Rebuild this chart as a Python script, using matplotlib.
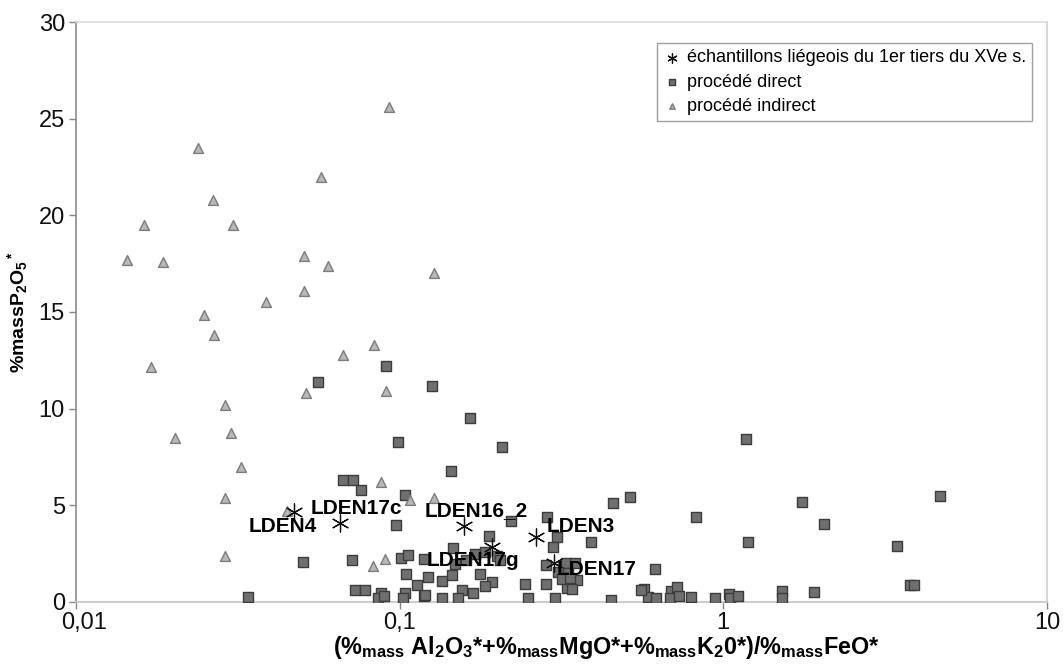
import matplotlib
matplotlib.use('Agg')
import matplotlib.pyplot as plt
import matplotlib.transforms as mtransforms
from matplotlib.ticker import FixedLocator, FixedFormatter, NullLocator

plt.rcParams['font.family'] = ['Liberation Sans', 'DejaVu Sans']
plt.rcParams['mathtext.fontset'] = 'custom'
plt.rcParams['mathtext.rm'] = 'Liberation Sans'
plt.rcParams['mathtext.bf'] = 'Liberation Sans:bold'
plt.rcParams['mathtext.default'] = 'bf'

# procédé indirect (triangles)
ind_x = [0.0925, 0.0239, 0.0573, 0.0265, 0.0162, 0.0305, 0.0144, 0.0186, 0.0507, 0.0599,
         0.1276, 0.0507, 0.0386, 0.0248, 0.0267, 0.0831, 0.0670, 0.0170, 0.0514, 0.0910,
         0.0288, 0.0203, 0.0302, 0.0323, 0.0874, 0.0289, 0.1079, 0.1276, 0.0450, 0.0289,
         0.0899, 0.0829]
ind_y = [25.6, 23.5, 22.0, 20.8, 19.5, 19.5, 17.7, 17.6, 17.9, 17.4,
         17.0, 16.1, 15.5, 14.85, 13.8, 13.3, 12.8, 12.15, 10.8, 10.9,
         10.2, 8.5, 8.75, 7.0, 6.2, 5.4, 5.3, 5.4, 4.7, 2.4,
         2.2, 1.85]

# procédé direct (squares)
dir_x = [0.091, 0.056, 0.126, 0.165, 0.0986, 0.2065, 0.1446, 0.0666, 0.0718, 0.0757, 0.1039,
         1.178, 4.675, 1.75, 0.823, 2.046, 1.195, 3.436, 0.614, 3.78, 3.89,
         0.569, 0.586, 0.618, 0.688, 0.721, 0.683, 0.728, 0.793, 0.945, 1.038,
         1.046, 1.112, 1.514, 1.514, 1.91,
         0.4575, 0.514, 0.286, 0.2206, 0.189, 0.3067, 0.3915, 0.298, 0.1457, 0.1708,
         0.1836, 0.1192, 0.148, 0.2828, 0.3277, 0.348, 0.309, 0.332, 0.352, 0.328,
         0.341, 0.122, 0.135, 0.1455, 0.177, 0.1927, 0.184, 0.1553, 0.168, 0.151,
         0.135, 0.119, 0.2436, 0.284, 0.2485, 0.303, 0.451, 0.558, 0.318, 0.336,
         0.16, 0.2,
         0.0977, 0.0503, 0.0715, 0.101, 0.106, 0.204, 0.1046, 0.113, 0.1039, 0.1026,
         0.1196, 0.0729, 0.0781, 0.0876, 0.0859, 0.0897, 0.034]
dir_y = [12.2, 11.4, 11.15, 9.5, 8.25, 8.0, 6.8, 6.3, 6.3, 5.8, 5.55,
         8.45, 5.5, 5.15, 4.4, 4.05, 3.1, 2.9, 1.7, 0.9, 0.9,
         0.65, 0.25, 0.2, 0.55, 0.75, 0.2, 0.3, 0.25, 0.2, 0.4,
         0.2, 0.3, 0.55, 0.2, 0.5,
         5.1, 5.45, 4.4, 4.2, 3.4, 3.35, 3.1, 2.85, 2.8, 2.5,
         2.6, 2.2, 1.95, 1.9, 2.0, 2.0, 1.55, 1.5, 1.15, 0.7,
         0.65, 1.3, 1.1, 1.4, 1.45, 1.05, 0.85, 0.6, 0.45, 0.2,
         0.2, 0.3, 0.95, 0.95, 0.2, 0.2, 0.1, 0.6, 1.2, 1.25,
         2.15, 2.4,
         4.0, 2.05, 2.15, 2.3, 2.45, 2.15, 1.45, 0.9, 0.45, 0.2,
         0.35, 0.6, 0.6, 0.45, 0.2, 0.3, 0.25]

# échantillons liégeois
ech_names = ['LDEN4', 'LDEN17c', 'LDEN16_2', 'LDEN3', 'LDEN17g', 'LDEN17']
ech_x = [0.047, 0.0653, 0.1576, 0.2633, 0.1923, 0.2994]
ech_y = [4.67, 4.10, 3.95, 3.38, 2.86, 2.03]
label_offsets = [(-11, -15), (17, 14), (13, 15), (45, 10), (-19, -14), (43, -7)]

fig = plt.figure(figsize=(10.64, 6.67), dpi=100)
ax = fig.add_axes([0.0714, 0.0975, 0.9126, 0.8695])

ax.scatter(dir_x, dir_y, marker='s', s=50, facecolor='#6f6f6f', edgecolor='#3c3c3c',
           linewidth=1.0, zorder=3, label='procédé direct')
ax.scatter(ind_x, ind_y, marker='^', s=50, facecolor='#b8b8b8', edgecolor='#7c7c7c',
           linewidth=1.0, zorder=3, label='procédé indirect')
ax.scatter(ech_x, ech_y, marker=(6, 2, 0), s=150, color='#111111',
           linewidth=0.9, zorder=4, label='échantillons liégeois du 1er tiers du XVe s.')

for name, x, y, off in zip(ech_names, ech_x, ech_y, label_offsets):
    ax.annotate(name, (x, y), xytext=off, textcoords='offset pixels',
                ha='center', va='center', fontsize=15, fontweight='bold',
                color='black', zorder=5)

ax.set_xscale('log')
ax.set_xlim(0.01, 10)
ax.set_ylim(0, 30)
ax.xaxis.set_major_locator(FixedLocator([0.01, 0.1, 1, 10]))
ax.xaxis.set_major_formatter(FixedFormatter(['0,01', '0,1', '1', '10']))
ax.xaxis.set_minor_locator(NullLocator())
ax.set_yticks([0, 5, 10, 15, 20, 25, 30])
ax.set_yticklabels(['0', '5', '10', '15', '20', '25', '30'])
ax.tick_params(axis='both', labelsize=17, colors='#888888', labelcolor='#111111',
               length=5, width=1, pad=3)
ax.tick_params(axis='x', pad=2)

# first x label sits a little to the right of its tick
first = ax.get_xticklabels()[0]
first.set_transform(first.get_transform() +
                    mtransforms.ScaledTranslation(8 / 100, 0, fig.dpi_scale_trans))

ax.spines['left'].set_color('#8c8c8c')
ax.spines['bottom'].set_color('#c4c4c4')
ax.spines['top'].set_color('#dcdcdc')
ax.spines['right'].set_color('#d0d0d0')
for s in ax.spines.values():
    s.set_linewidth(1.2)

ax.set_xlabel(r'(%$_{mass}$ Al$_2$O$_3$*+%$_{mass}$MgO*+%$_{mass}$K$_2$0*)/%$_{mass}$FeO*',
              fontsize=16.8, fontweight='bold', labelpad=0)
ax.xaxis.set_label_coords(0.546, -0.055)
ax.set_ylabel(r'%massP$_2$O$_5$$^*$', fontsize=14, fontweight='bold', labelpad=6)

handles, labels = ax.get_legend_handles_labels()
order = [2, 0, 1]
leg = ax.legend([handles[i] for i in order], [labels[i] for i in order],
                loc='upper right', bbox_to_anchor=(1032 / 1064, 1 - 43 / 667),
                bbox_transform=fig.transFigure, borderaxespad=0, fontsize=13,
                markerscale=0.55, handletextpad=0.3, handlelength=1.0,
                labelspacing=0.4, fancybox=False, framealpha=1,
                edgecolor='#a0a0a0', borderpad=0.35)
leg.get_frame().set_linewidth(1.0)

fig.savefig('out.png', dpi=100)
